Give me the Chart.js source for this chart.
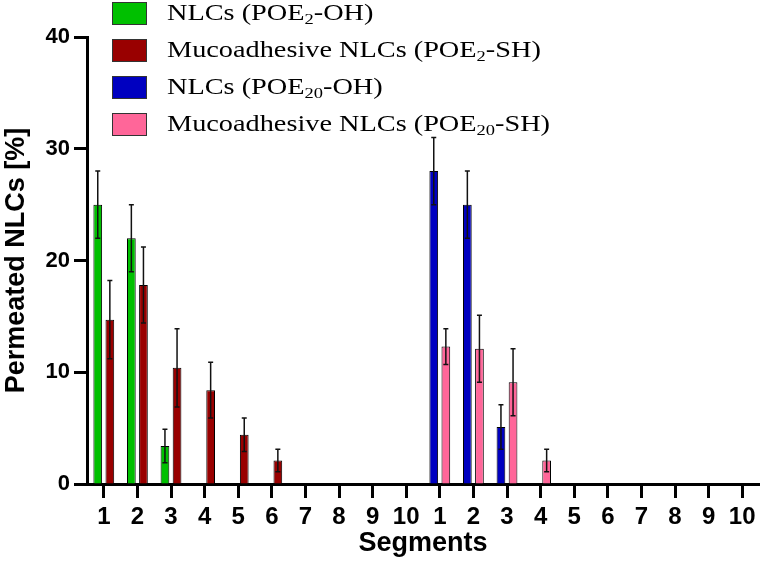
<!DOCTYPE html>
<html>
<head>
<meta charset="utf-8">
<script src="https://cdn.jsdelivr.net/npm/chart.js@4/dist/chart.umd.min.js"></script>
<style>
  html, body { margin: 0; padding: 0; background: #fff; }
  #wrap { width: 762px; height: 564px; }
</style>
</head>
<body>
<div id="wrap"><canvas id="segChart" width="762" height="564"></canvas></div>
<script>
// segment labels: two sets of 1..10
const segments = ['1','2','3','4','5','6','7','8','9','10','1','2','3','4','5','6','7','8','9','10'];

// permeated NLCs [%]
const poe2OH    = [25, 22, 3.4, 0, 0, 0, 0, 0, 0, 0, null, null, null, null, null, null, null, null, null, null];
const poe2OHErr = [3, 3, 1.5, 0, 0, 0, 0, 0, 0, 0, 0, 0, 0, 0, 0, 0, 0, 0, 0, 0];
const poe2SH    = [14.7, 17.8, 10.4, 8.4, 4.4, 2.1, 0, 0, 0, 0, null, null, null, null, null, null, null, null, null, null];
const poe2SHErr = [3.5, 3.4, 3.5, 2.5, 1.5, 1, 0, 0, 0, 0, 0, 0, 0, 0, 0, 0, 0, 0, 0, 0];
const poe20OH    = [null, null, null, null, null, null, null, null, null, null, 28, 25, 5.1, 0, 0, 0, 0, 0, 0, 0];
const poe20OHErr = [0, 0, 0, 0, 0, 0, 0, 0, 0, 0, 3, 3, 2, 0, 0, 0, 0, 0, 0, 0];
const poe20SH    = [null, null, null, null, null, null, null, null, null, null, 12.3, 12.1, 9.1, 2.1, 0, 0, 0, 0, 0, 0];
const poe20SHErr = [0, 0, 0, 0, 0, 0, 0, 0, 0, 0, 1.6, 3, 3, 1, 0, 0, 0, 0, 0, 0];

const yTicks = [0, 10, 20, 30, 40];

const errors = [poe2OHErr, poe2SHErr, poe20OHErr, poe20SHErr];

// error bars with small caps
const errorBars = {
  id: 'errorBars',
  afterDatasetsDraw(chart) {
    const ctx = chart.ctx;
    const y = chart.scales.y;
    ctx.save();
    ctx.strokeStyle = '#111';
    ctx.lineWidth = 1.5;
    chart.data.datasets.forEach((ds, i) => {
      const meta = chart.getDatasetMeta(i);
      meta.data.forEach((bar, j) => {
        const v = ds.data[j];
        const e = errors[i][j];
        if (v == null || !e) return;
        const top = y.getPixelForValue(v + e);
        const bot = y.getPixelForValue(v - e);
        ctx.beginPath();
        ctx.moveTo(bar.x, top); ctx.lineTo(bar.x, bot);
        ctx.moveTo(bar.x - 2.5, top); ctx.lineTo(bar.x + 2.5, top);
        ctx.moveTo(bar.x - 2.5, bot); ctx.lineTo(bar.x + 2.5, bot);
        ctx.stroke();
      });
    });
    ctx.restore();
  }
};

// legend drawn by hand so the subscripts come out right
// (the original serif text is a bit wide, hence the x-stretch)
const subMap = { '₀': '0', '₁': '1', '₂': '2', '₃': '3', '₄': '4', '₅': '5', '₆': '6', '₇': '7', '₈': '8', '₉': '9' };
const legendBox = {
  id: 'legendBox',
  afterDraw(chart) {
    const ctx = chart.ctx;
    const stretch = 1.23;
    ctx.save();
    chart.data.datasets.forEach((ds, i) => {
      const top = 2 + i * 37;
      ctx.fillStyle = ds.backgroundColor;
      ctx.fillRect(112, top, 35, 23);
      ctx.strokeStyle = '#333';
      ctx.lineWidth = 1;
      ctx.strokeRect(112.5, top + 0.5, 34, 22);
      const cy = top + 12;
      ctx.save();
      ctx.translate(167, 0);
      ctx.scale(stretch, 1);
      let x = 0;
      ctx.fillStyle = '#000';
      ctx.textBaseline = 'middle';
      for (const ch of ds.label) {
        if (subMap[ch]) {
          ctx.font = '15px "Liberation Serif"';
          ctx.fillText(subMap[ch], x, cy + 6);
          x += ctx.measureText(subMap[ch]).width;
        } else {
          ctx.font = '23px "Liberation Serif"';
          ctx.fillText(ch, x, cy);
          x += ctx.measureText(ch).width;
        }
      }
      ctx.restore();
    });
    ctx.restore();
  }
};

new Chart(document.getElementById('segChart'), {
  type: 'bar',
  data: {
    labels: segments,
    datasets: [
      { label: 'NLCs (POE₂-OH)', data: poe2OH, backgroundColor: '#00c000' },
      { label: 'Mucoadhesive NLCs (POE₂-SH)', data: poe2SH, backgroundColor: '#990000' },
      { label: 'NLCs (POE₂₀-OH)', data: poe20OH, backgroundColor: '#0000c0' },
      { label: 'Mucoadhesive NLCs (POE₂₀-SH)', data: poe20SH, backgroundColor: '#ff6699' }
    ]
  },
  options: {
    responsive: false,
    animation: false,
    skipNull: true,
    categoryPercentage: 0.72,
    barPercentage: 0.72,
    datasets: { bar: { borderColor: '#000', borderWidth: 1 } },
    layout: { padding: { top: 37, right: 3, left: 0, bottom: 0 } },
    plugins: { legend: { display: false }, tooltip: { enabled: false } },
    scales: {
      x: {
        grid: { display: true, drawOnChartArea: false, offset: false, color: '#000', tickLength: 14, tickWidth: 3 },
        border: { color: '#000', width: 3 },
        ticks: { color: '#000', padding: 5, maxRotation: 0, autoSkip: false, font: { family: '"Liberation Sans"', weight: 'bold', size: 24 } },
        title: { display: true, text: 'Segments', color: '#000', padding: { top: 0, bottom: 4 }, font: { family: '"Liberation Sans"', weight: 'bold', size: 27 } },
        afterFit(scale) { scale.height = 80; }
      },
      y: {
        min: 0,
        max: 40,
        afterBuildTicks(scale) { scale.ticks = yTicks.map(v => ({ value: v })); },
        grid: { display: true, drawOnChartArea: false, color: '#000', tickLength: 13, tickWidth: 3 },
        border: { color: '#000', width: 3 },
        ticks: { color: '#000', padding: 4, font: { family: '"Liberation Sans"', weight: 'bold', size: 22 } },
        title: { display: true, text: 'Permeated NLCs [%]', color: '#000', padding: { top: 0, bottom: 0 }, font: { family: '"Liberation Sans"', weight: 'bold', size: 27 } },
        afterFit(scale) { scale.width = 87; }
      }
    }
  },
  plugins: [errorBars, legendBox]
});
</script>
</body>
</html>
